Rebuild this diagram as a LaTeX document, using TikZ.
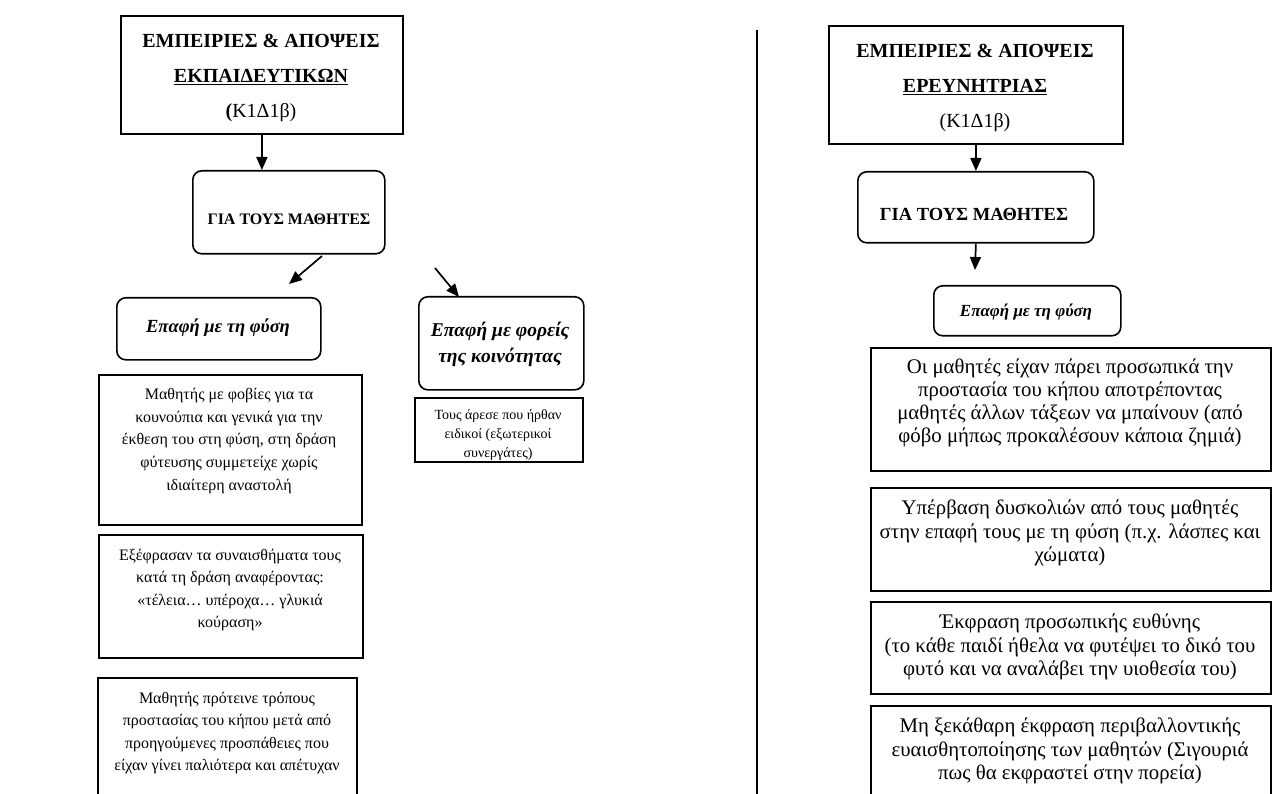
\documentclass[tikz,border=0pt]{standalone}
\usepackage{fontspec}
\setmainfont{Liberation Serif}
\usetikzlibrary{arrows.meta}
\begin{document}
\begin{tikzpicture}[x=1pt,y=-1pt,
  frame/.style={draw, line width=1.8pt, inner sep=0pt, anchor=north west},
  rframe/.style={frame, line width=1.6pt, rounded corners=9pt},
  txt/.style={align=center, inner sep=0pt},
  titletxt/.style={txt, font=\fontsize{20}{35}\selectfont},
  headL/.style={txt, font=\fontsize{16}{20}\selectfont\bfseries},
  headR/.style={txt, font=\fontsize{18.5}{22}\selectfont\bfseries},
  topicL/.style={txt, font=\fontsize{18.5}{26}\selectfont\bfseries\itshape},
  topicR/.style={txt, font=\fontsize{17}{22}\selectfont\bfseries\itshape},
  bodyL/.style={txt, font=\fontsize{16}{22.6}\selectfont},
  bodyR/.style={txt, font=\fontsize{20.8}{23.2}\selectfont},
  smalltxt/.style={txt, font=\fontsize{14}{19.3}\selectfont},
  arr/.style={line width=1.7pt, -{Triangle[length=13pt, width=11pt]}},
]
\useasboundingbox (0,0) rectangle (1288,794);
\clip (0,0) rectangle (1288,794);

% ---------- left column: teachers ----------
\node[frame, minimum width=282pt, minimum height=118pt] (ltop) at (120,15) {};
\node[titletxt] (ltoptxt) at (261,78)
  {\textbf{ΕΜΠΕΙΡΙΕΣ \& ΑΠΟΨΕΙΣ}\\ \textbf{\underline{ΕΚΠΑΙΔΕΥΤΙΚΩΝ}}\\ \textbf{(}Κ1Δ1β)};
\node[rframe, minimum width=192pt, minimum height=83pt] (lgia) at (192,170) {};
\node[headL] (lgiatxt) at (289,219) {ΓΙΑ ΤΟΥΣ ΜΑΘΗΤΕΣ};
\draw[arr] (ltop.south) -- (ltop.south |- lgia.north);

\coordinate (la1) at (322,256);
\coordinate (la2) at (289,284);
\coordinate (lb1) at (435,268);
\coordinate (lb2) at (459,297);
\draw[arr] (la1) -- (la2);
\draw[arr] (lb1) -- (lb2);

\node[rframe, minimum width=204pt, minimum height=62pt] (lnat) at (116,297) {};
\node[topicL] (lnattxt) at (218,328) {Επαφή με τη φύση};
\node[rframe, minimum width=165pt, minimum height=93pt] (lcom) at (418,296) {};
\node[topicL, font=\fontsize{19.5}{26}\selectfont\bfseries\itshape] (lcomtxt) at (500,344)
  {Επαφή με φορείς\\ της κοινότητας};
\node[frame, minimum width=168pt, minimum height=64pt] (lcomA) at (414,397) {};
\node[smalltxt] (lcomAtxt) at (498,435)
  {Τους άρεσε που ήρθαν\\ ειδικοί (εξωτερικοί\\ συνεργάτες)};

\node[frame, minimum width=263pt, minimum height=150pt] (lnA) at (98,374) {};
\node[bodyL] (lnAtxt) at (229,441)
  {Μαθητής με φοβίες για τα\\ κουνούπια και γενικά για την\\ έκθεση του στη φύση, στη δράση\\ φύτευσης συμμετείχε χωρίς\\ ιδιαίτερη αναστολή};
\node[frame, minimum width=264pt, minimum height=123pt] (lnB) at (98,534) {};
\node[bodyL] (lnBtxt) at (230,590)
  {Εξέφρασαν τα συναισθήματα τους\\ κατά τη δράση αναφέροντας:\\ «τέλεια… υπέροχα… γλυκιά\\ κούραση»};
\node[frame, minimum width=259pt, minimum height=150pt] (lnC) at (97,677) {};
\node[bodyL] (lnCtxt) at (227,733)
  {Μαθητής πρότεινε τρόπους\\ προστασίας του κήπου μετά από\\ προηγούμενες προσπάθειες που\\ είχαν γίνει παλιότερα και απέτυχαν};

% ---------- divider ----------
\coordinate (dtop) at (757,30);
\coordinate (dbot) at (757,800);
\draw[line width=1.6pt] (dtop) -- (dbot);

% ---------- right column: researcher ----------
\node[frame, minimum width=294pt, minimum height=118pt] (rtop) at (828,25) {};
\node[titletxt] (rtoptxt) at (975,88)
  {\textbf{ΕΜΠΕΙΡΙΕΣ \& ΑΠΟΨΕΙΣ}\\ \textbf{\underline{ΕΡΕΥΝΗΤΡΙΑΣ}}\\ (Κ1Δ1β)};
\node[rframe, minimum width=236pt, minimum height=71pt] (rgia) at (857,171) {};
\node[headR] (rgiatxt) at (974,214) {ΓΙΑ ΤΟΥΣ ΜΑΘΗΤΕΣ};
\draw[arr] (rtop.south) -- (rtop.south |- rgia.north);
\coordinate (rarr) at (975,270);
\draw[arr] (rgia.south -| rtop.south) -- (rarr);

\node[rframe, minimum width=187pt, minimum height=50pt] (rnat) at (933,285) {};
\node[topicR] (rnattxt) at (1026,312) {Επαφή με τη φύση};

\node[frame, minimum width=400pt, minimum height=123pt] (rA) at (870,347) {};
\node[bodyR] (rAtxt) at (1070,403)
  {Οι μαθητές είχαν πάρει προσωπικά την\\ προστασία του κήπου αποτρέποντας\\ μαθητές άλλων τάξεων να μπαίνουν (από\\ φόβο μήπως προκαλέσουν κάποια ζημιά)};
\node[frame, minimum width=400pt, minimum height=103pt] (rB) at (870,487) {};
\node[bodyR] (rBtxt) at (1070,533)
  {Υπέρβαση δυσκολιών από τους μαθητές\\ στην επαφή τους με τη φύση (π.χ. λάσπες και\\ χώματα)};
\node[frame, minimum width=400pt, minimum height=92pt] (rC) at (870,601) {};
\node[bodyR] (rCtxt) at (1070,647)
  {Έκφραση προσωπικής ευθύνης\\ (το κάθε παιδί ήθελα να φυτέψει το δικό του\\ φυτό και να αναλάβει την υιοθεσία του)};
\node[frame, minimum width=400pt, minimum height=120pt] (rD) at (870,705) {};
\node[bodyR] (rDtxt) at (1070,751)
  {Μη ξεκάθαρη έκφραση περιβαλλοντικής\\ ευαισθητοποίησης των μαθητών (Σιγουριά\\ πως θα εκφραστεί στην πορεία)};
\end{tikzpicture}
\end{document}
